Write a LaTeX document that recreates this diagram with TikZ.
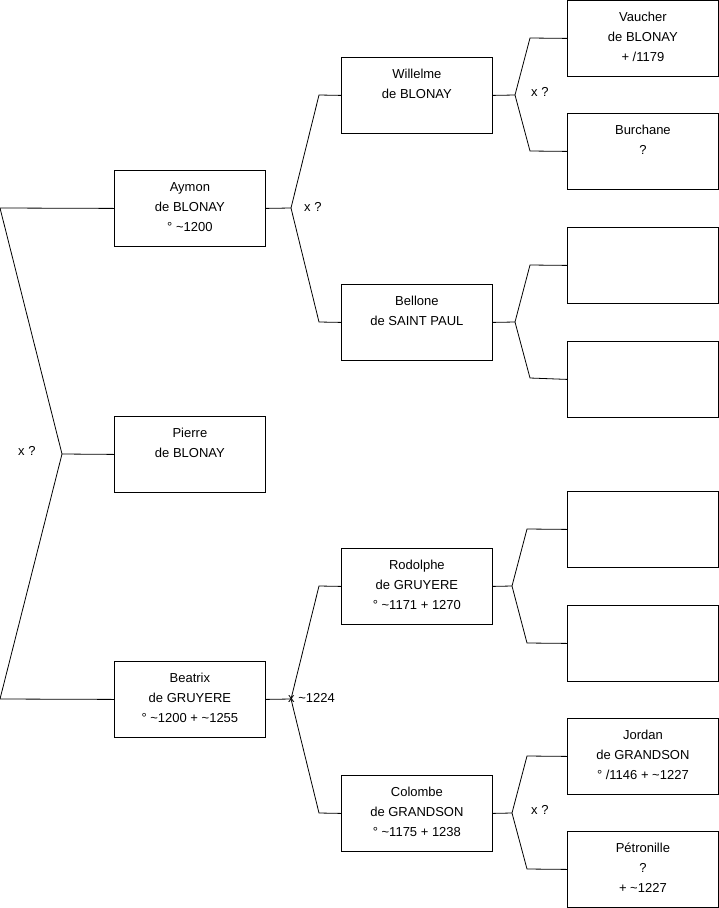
\documentclass[tikz,border=0pt]{standalone}
\usepackage{fontspec}
\setmainfont{Liberation Sans}
\begin{document}
\begin{tikzpicture}[x=1pt,y=-1pt,
  person/.style={draw=black,line width=0.8pt,minimum width=151pt,minimum height=76pt,
    inner sep=0pt,align=center,font=\fontsize{13}{20}\selectfont,anchor=north west,
    execute at end node={\rule[-3pt]{0pt}{0pt}}},
  lbl/.style={anchor=west,inner sep=0pt,font=\fontsize{13}{15}\selectfont},
  link/.style={line width=0.8pt,black}]
\useasboundingbox (0,0) rectangle (719,908);
% level 1
\node[person] (aymon) at (114,170) {Aymon\\de BLONAY\\° \textasciitilde1200};
\node[person] (pierre) at (114,416) {Pierre\\de BLONAY\\\mbox{}};
\node[person] (beatrix) at (114,661) {Beatrix\\de GRUYERE\\° \textasciitilde1200 + \textasciitilde1255};
% level 2
\node[person] (willelme) at (341,57) {Willelme\\de BLONAY\\\mbox{}};
\node[person] (bellone) at (341,284) {Bellone\\de SAINT PAUL\\\mbox{}};
\node[person] (rodolphe) at (341,548) {Rodolphe\\de GRUYERE\\° \textasciitilde1171 + 1270};
\node[person] (colombe) at (341,775) {Colombe\\de GRANDSON\\° \textasciitilde1175 + 1238};
% level 3
\node[person] (vaucher) at (567,0) {Vaucher\\de BLONAY\\+ /1179};
\node[person] (burchane) at (567,113) {Burchane\\?\\\mbox{}};
\node[person] (e1) at (567,227) {};
\node[person] (e2) at (567,341) {};
\node[person] (e3) at (567,491) {};
\node[person] (e4) at (567,605) {};
\node[person] (jordan) at (567,718) {Jordan\\de GRANDSON\\° /1146 + \textasciitilde1227};
\node[person] (petronille) at (567,831) {Pétronille\\?\\+ \textasciitilde1227};
% left bracket
\coordinate (L1) at (0,208);
\coordinate (J0) at (62,454);
\coordinate (L2) at (0,699);
\draw[link] (aymon.west) -- (L1) -- (J0) -- (pierre.west);
\draw[link] (J0) -- (L2) -- (beatrix.west);
\node[lbl] (x0) at (18,451) {x ?};
% Aymon
\coordinate (J1) at (291,208);
\coordinate (A1) at (319,95);
\coordinate (A2) at (319,322);
\draw[link] (aymon.east) -- (J1) -- (A1) -- (willelme.west);
\draw[link] (J1) -- (A2) -- (bellone.west);
\node[lbl] (x1) at (304,207) {x ?};
% Beatrix
\coordinate (J2) at (291,699);
\coordinate (B1) at (319,586);
\coordinate (B2) at (319,813);
\draw[link] (beatrix.east) -- (J2) -- (B1) -- (rodolphe.west);
\draw[link] (J2) -- (B2) -- (colombe.west);
\node[lbl] (x2) at (288,698) {x \textasciitilde1224};
% Willelme
\coordinate (J3) at (515,95);
\coordinate (C1) at (530,38);
\coordinate (C2) at (530,151);
\draw[link] (willelme.east) -- (J3) -- (C1) -- (vaucher.west);
\draw[link] (J3) -- (C2) -- (burchane.west);
\node[lbl] (x3) at (531,92) {x ?};
% Bellone
\coordinate (J4) at (515,322);
\coordinate (D1) at (530,265);
\coordinate (D2) at (530,378);
\draw[link] (bellone.east) -- (J4) -- (D1) -- (e1.west);
\draw[link] (J4) -- (D2) -- (e2.west);
% Rodolphe
\coordinate (J5) at (512,586);
\coordinate (E1) at (527,529);
\coordinate (E2) at (527,643);
\draw[link] (rodolphe.east) -- (J5) -- (E1) -- (e3.west);
\draw[link] (J5) -- (E2) -- (e4.west);
% Colombe
\coordinate (J6) at (512,813);
\coordinate (F1) at (527,756);
\coordinate (F2) at (527,869);
\draw[link] (colombe.east) -- (J6) -- (F1) -- (jordan.west);
\draw[link] (J6) -- (F2) -- (petronille.west);
\node[lbl] (x4) at (531,810) {x ?};
\end{tikzpicture}
\end{document}
